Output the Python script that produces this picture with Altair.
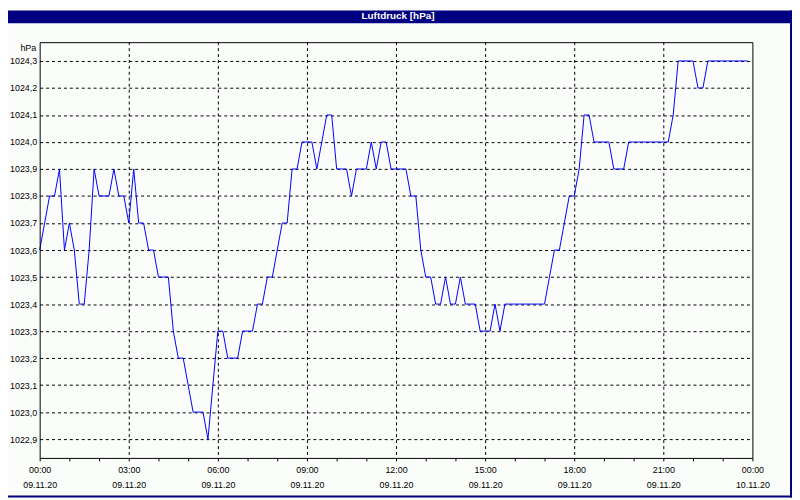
import altair as alt
import pandas as pd

# Luftdruck values every 10 minutes, 09.11.20 00:00 .. 23:50
pressure = [
    1023.6, 1023.7, 1023.8, 1023.8, 1023.9, 1023.6, 1023.7, 1023.6, 1023.4, 1023.4,
    1023.6, 1023.9, 1023.8, 1023.8, 1023.8, 1023.9, 1023.8, 1023.8, 1023.7, 1023.9,
    1023.7, 1023.7, 1023.6, 1023.6, 1023.5, 1023.5, 1023.5, 1023.3, 1023.2, 1023.2,
    1023.1, 1023.0, 1023.0, 1023.0, 1022.9, 1023.1, 1023.3, 1023.3, 1023.2, 1023.2,
    1023.2, 1023.3, 1023.3, 1023.3, 1023.4, 1023.4, 1023.5, 1023.5, 1023.6, 1023.7,
    1023.7, 1023.9, 1023.9, 1024.0, 1024.0, 1024.0, 1023.9, 1024.0, 1024.1, 1024.1,
    1023.9, 1023.9, 1023.9, 1023.8, 1023.9, 1023.9, 1023.9, 1024.0, 1023.9, 1024.0,
    1024.0, 1023.9, 1023.9, 1023.9, 1023.9, 1023.8, 1023.8, 1023.6, 1023.5, 1023.5,
    1023.4, 1023.4, 1023.5, 1023.4, 1023.4, 1023.5, 1023.4, 1023.4, 1023.4, 1023.3,
    1023.3, 1023.3, 1023.4, 1023.3, 1023.4, 1023.4, 1023.4, 1023.4, 1023.4, 1023.4,
    1023.4, 1023.4, 1023.4, 1023.5, 1023.6, 1023.6, 1023.7, 1023.8, 1023.8, 1023.9,
    1024.1, 1024.1, 1024.0, 1024.0, 1024.0, 1024.0, 1023.9, 1023.9, 1023.9, 1024.0,
    1024.0, 1024.0, 1024.0, 1024.0, 1024.0, 1024.0, 1024.0, 1024.0, 1024.1, 1024.3,
    1024.3, 1024.3, 1024.3, 1024.2, 1024.2, 1024.3, 1024.3, 1024.3, 1024.3, 1024.3,
    1024.3, 1024.3, 1024.3, 1024.3,
]
step_minutes = 10
y_ticks = [1022.9, 1023.0, 1023.1, 1023.2, 1023.3, 1023.4, 1023.5, 1023.6,
           1023.7, 1023.8, 1023.9, 1024.0, 1024.1, 1024.2, 1024.3]
grid_hours = [3, 6, 9, 12, 15, 18, 21]
title_text = "Luftdruck [hPa]"
unit_text = "hPa"


def iso(minutes):
    d = 9 + minutes // 1440
    m = minutes % 1440
    return f"2020-11-{d:02d}T{m // 60:02d}:{m % 60:02d}:00Z"


df = pd.DataFrame({
    "time": [iso(i * step_minutes) for i in range(len(pressure))],
    "value": pressure,
})
grid_df = pd.DataFrame({"time": [iso(h * 60) for h in grid_hours]})
one = pd.DataFrame({"d": [0]})

font = "Liberation Sans"
navy = "#000080"
fs = 9


def dt(h):
    return alt.DateTime(year=2020, month=11, date=9 + h // 24, hours=h % 24, utc=True)


x_enc = alt.X(
    "time:T",
    scale=alt.Scale(type="utc", domain=[dt(0), dt(24)]),
    axis=alt.Axis(
        values=[dt(h) for h in range(25)],
        grid=False, domain=False, ticks=True, tickSize=3, tickColor="black",
        labelExpr="utchours(datum.value) % 3 == 0 ? [utcFormat(datum.value, '%H:%M'), utcFormat(datum.value, '%d.%m.%y')] : ''",
        labelFont=font, labelFontSize=fs, labelColor="black",
        labelBaseline="top", labelLineHeight=15, labelPadding=5,
        labelOverlap=False, labelFlush=False, labelBound=False,
        title=None,
    ),
)

y_enc = alt.Y(
    "value:Q",
    scale=alt.Scale(domain=[1022.8304, 1024.3696], nice=False, zero=False),
    axis=alt.Axis(
        values=y_ticks, grid=True, gridColor="black", gridDash=[3, 3], gridWidth=1,
        gridOpacity=1, domain=False, ticks=False,
        labelExpr="replace(format(datum.value, '.1f'), '.', ',')",
        labelFont=font, labelFontSize=fs, labelColor="black", labelPadding=3,
        title=unit_text, titleAngle=0, titleAlign="right", titleBaseline="middle",
        titleX=-4, titleY=5, titleFont=font, titleFontSize=fs,
        titleFontWeight="normal", titleColor="black",
    ),
)

title_bar = alt.Chart(one).mark_rect(color=navy).encode(
    x=alt.value(-32), x2=alt.value(760), y=alt.value(-32), y2=alt.value(-19)
)
right_border = alt.Chart(one).mark_rect(color=navy).encode(
    x=alt.value(758), x2=alt.value(760), y=alt.value(-32), y2=alt.value(460)
)
bottom_border = alt.Chart(one).mark_rect(color=navy).encode(
    x=alt.value(-32), x2=alt.value(760), y=alt.value(458), y2=alt.value(460)
)
title = alt.Chart(one).mark_text(
    text=title_text, color="white", font=font, fontSize=10, fontWeight="bold",
    align="center", baseline="middle"
).encode(x=alt.value(362), y=alt.value(-26))

vgrid = alt.Chart(grid_df).mark_rule(
    color="black", strokeDash=[3, 3], strokeWidth=1, xOffset=0.5
).encode(x=x_enc)

line = alt.Chart(df).mark_line(color="#0000FF", strokeWidth=1).encode(x=x_enc, y=y_enc)

frame = alt.Chart(one).mark_rect(filled=False, stroke="black", strokeWidth=1).encode(
    x=alt.value(0.5), x2=alt.value(720.5), y=alt.value(0.5), y2=alt.value(420.5)
)

chart = alt.layer(title_bar, right_border, bottom_border, title, vgrid, line, frame).properties(
    width=720, height=420,
    padding={"left": 32, "top": 32, "right": 40, "bottom": 40},
    autosize=alt.AutoSizeParams(type="none"),
    background="#FBFDFB",
).configure_view(stroke=None)

chart.save("out.html", embed_options={"renderer": "svg", "actions": False})
